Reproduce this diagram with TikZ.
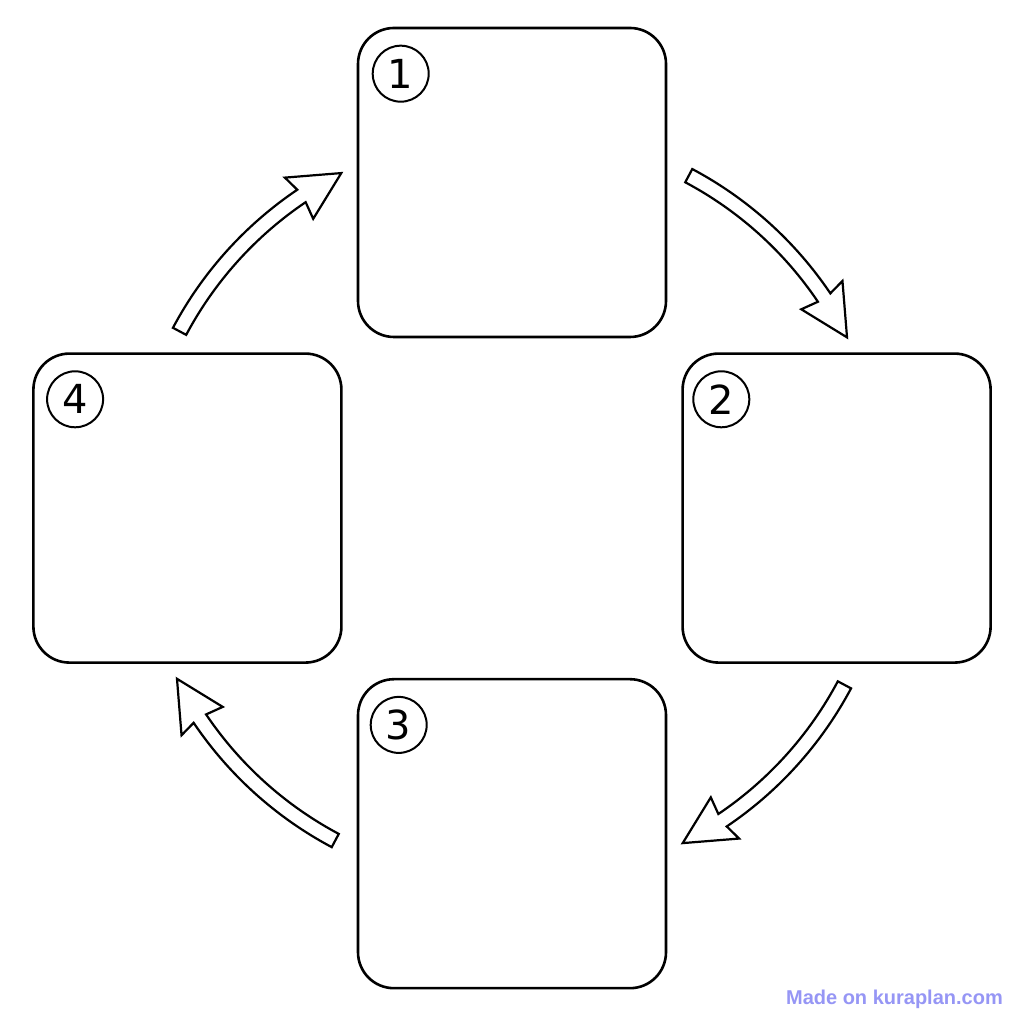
\documentclass[tikz,border=0pt]{standalone}
\usepackage{fontspec}
\setmainfont{DejaVu Sans}
\newfontfamily\markfont{Liberation Sans}
\usetikzlibrary{positioning}
\definecolor{markblue}{RGB}{150,150,245}

\begin{document}
\begin{tikzpicture}[x=1pt, y=1pt, node distance=14pt and 14pt]
    \tikzstyle{card} = [rectangle, draw, line width=2.6pt, rounded corners=36pt, minimum width=308pt, minimum height=309pt, inner sep=0pt]
    \tikzstyle{num} = [circle, draw, line width=2pt, minimum size=56pt, inner sep=0pt, font=\fontsize{40}{40}\selectfont]
    \tikzstyle{hollow} = [draw, line width=2.2pt, line join=miter, fill=white]
    \useasboundingbox [fill=white] (0,0) rectangle (1024,1024);

    \node [card] (b1) at (512,841.5) {};
    \node [card, below right=of b1] (b2) {};
    \node [card, below left=of b2] (b3) {};
    \node [card, above left=of b3] (b4) {};

    \node [num] (n1) at ([shift={(44,-47)}]b1.north west) {1};
    \node [num] (n2) at ([shift={(40,-47)}]b2.north west) {2};
    \node [num] (n3) at ([shift={(42,-47)}]b3.north west) {3};
    \node [num] (n4) at ([shift={(43,-47)}]b4.north west) {4};

    \coordinate (c) at (b1 |- b4);
    \begin{scope}[shift={(c)}]
        \draw [hollow] (152:384pt) arc [start angle=152, end angle=124, radius=384pt] -- (124.5:401pt) -- (117:376pt) -- (124.5:351pt) -- (124:369pt) arc [start angle=124, end angle=152, radius=369pt] -- cycle;
        \draw [hollow] (62:384pt) arc [start angle=62, end angle=34, radius=384pt] -- (34.5:401pt) -- (27:376pt) -- (34.5:351pt) -- (34:369pt) arc [start angle=34, end angle=62, radius=369pt] -- cycle;
        \draw [hollow] (-28:384pt) arc [start angle=-28, end angle=-56, radius=384pt] -- (-55.5:401pt) -- (-63:376pt) -- (-55.5:351pt) -- (-56:369pt) arc [start angle=-56, end angle=-28, radius=369pt] -- cycle;
        \draw [hollow] (-118:384pt) arc [start angle=-118, end angle=-146, radius=384pt] -- (-145.5:401pt) -- (-153:376pt) -- (-145.5:351pt) -- (-146:369pt) arc [start angle=-146, end angle=-118, radius=369pt] -- cycle;
    \end{scope}

    \node [font=\markfont\bfseries\fontsize{20}{20}\selectfont, text=markblue, anchor=base east, inner sep=0pt] (mark) at (1003,19) {Made on kuraplan.com};
\end{tikzpicture}
\end{document}
